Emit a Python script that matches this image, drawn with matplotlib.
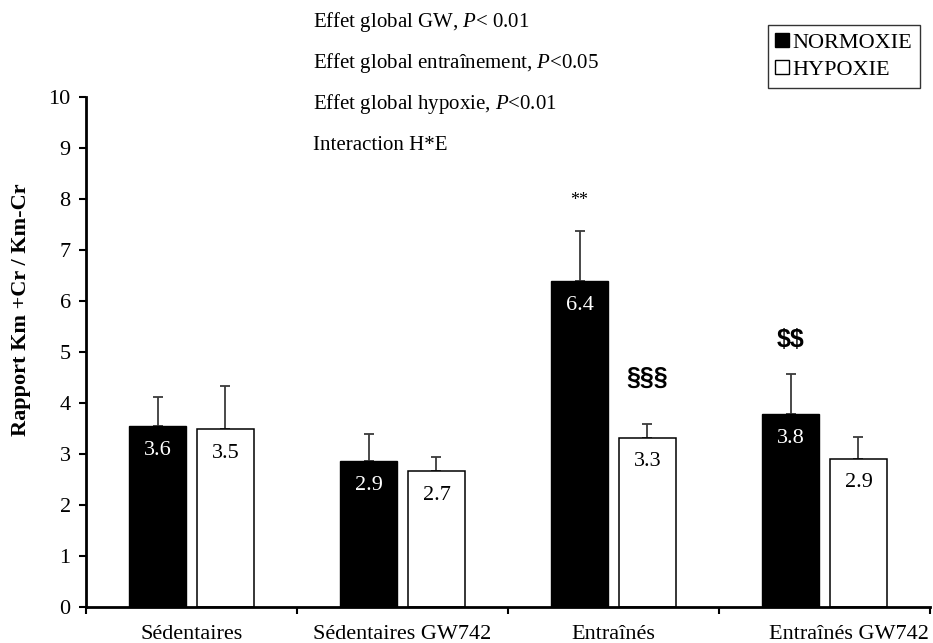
import matplotlib
matplotlib.use("Agg")
import matplotlib.pyplot as plt
from matplotlib.patches import Patch
from matplotlib.transforms import ScaledTranslation
import numpy as np

plt.rcParams['font.family'] = ['Liberation Serif', 'DejaVu Serif']
plt.rcParams['mathtext.fontset'] = 'custom'
plt.rcParams['mathtext.rm'] = 'Liberation Serif'
plt.rcParams['mathtext.it'] = 'Liberation Serif:italic'

categories = ['Sédentaires', 'Sédentaires GW742', 'Entraînés', 'Entraînés GW742']
normoxie = [3.55, 2.86, 6.39, 3.78]
hypoxie = [3.49, 2.66, 3.32, 2.91]
err_normoxie = [0.57, 0.54, 0.99, 0.79]
err_hypoxie = [0.85, 0.28, 0.27, 0.42]
labels_normoxie = ['3.6', '2.9', '6.4', '3.8']
labels_hypoxie = ['3.5', '2.7', '3.3', '2.9']
yticks = list(range(0, 11))
stats_lines = ["Effet global GW, $P$< 0.01",
               "Effet global entraînement, $P$<0.05",
               "Effet global hypoxie, $P$<0.01",
               "Interaction H*E"]
# significance marks: (category index, series, text, y value)
marks = [(2, 'N', '**', 7.98), (2, 'H', '§§§', 4.49), (3, 'N', '$$', 5.24)]

W, H = 933, 643
fig = plt.figure(figsize=(W / 100, H / 100), dpi=100)
ax = fig.add_axes([86 / W, 1 - 607 / H, 844 / W, 510 / H])

x = np.arange(len(categories))
off = 0.161
bw = 0.27
ax.bar(x - off, normoxie, bw, color='black', edgecolor='black', linewidth=1, zorder=2)
ax.bar(x + off, hypoxie, bw, color='white', edgecolor='black', linewidth=1.1, zorder=2)
ax.errorbar(x - off, normoxie, yerr=[np.zeros(4), err_normoxie], fmt='none',
            ecolor='#3a3a3a', elinewidth=1.3, capsize=3.4, capthick=1.3, zorder=1)
ax.errorbar(x + off, hypoxie, yerr=[np.zeros(4), err_hypoxie], fmt='none',
            ecolor='#3a3a3a', elinewidth=1.3, capsize=3.4, capthick=1.3, zorder=1)

for i in range(len(categories)):
    ax.annotate(labels_normoxie[i], (x[i] - off, normoxie[i]), xytext=(0, -17.5),
                textcoords='offset points', ha='center', va='center',
                color='white', fontsize=16, zorder=3)
    ax.annotate(labels_hypoxie[i], (x[i] + off, hypoxie[i]), xytext=(0, -17.5),
                textcoords='offset points', ha='center', va='center',
                color='black', fontsize=16, zorder=3)

for ci, s, t, yv in marks:
    xp = x[ci] - off if s == 'N' else x[ci] + off
    if t == '**':
        ax.text(xp, yv, t, ha='center', va='center', fontsize=13, parse_math=False)
    else:
        ax.text(xp, yv, t, ha='center', va='center', fontsize=18, parse_math=False,
                fontweight='bold', family=['Liberation Sans', 'DejaVu Sans'])

ax.set_xlim(-0.5, 3.5)
ax.set_ylim(0, 10)
ax.set_yticks(yticks)
ax.set_yticklabels([str(v) for v in yticks], fontsize=16)
ax.set_xticks(x)
ax.set_xticklabels(categories, fontsize=16)
ax.set_xticks(np.arange(-0.5, 3.6, 1.0), minor=True)
ax.tick_params(axis='x', which='major', length=0, pad=13)
ax.tick_params(axis='x', which='minor', length=5, width=1.5, direction='out')
ax.tick_params(axis='y', length=5, width=1.5, direction='out', pad=6)
for sp in ['top', 'right']:
    ax.spines[sp].set_visible(False)
for sp in ['left', 'bottom']:
    ax.spines[sp].set_linewidth(2)

# last category label sits a little right of its group centre in the original
lbl = ax.get_xticklabels()[-1]
lbl.set_transform(lbl.get_transform() + ScaledTranslation(0.24, 0, fig.dpi_scale_trans))

fig.text(21 / W, 1 - 310 / H, 'Rapport Km +Cr / Km-Cr', rotation=90, ha='center',
         va='center', fontsize=16, fontweight='bold')

for k, line in enumerate(stats_lines):
    fig.text(313 / W, 1 - (22 + 41 * k) / H, line, ha='left', va='center', fontsize=15)

handles = [Patch(facecolor='black', edgecolor='black', label='NORMOXIE'),
           Patch(facecolor='white', edgecolor='black', label='HYPOXIE')]
leg = fig.legend(handles=handles, loc='upper right', bbox_to_anchor=(920 / W, 1 - 25 / H),
                 fontsize=16, frameon=True, fancybox=False, handlelength=0.62,
                 handleheight=0.62, handletextpad=0.15, borderpad=0.35, labelspacing=0.32,
                 borderaxespad=0)
leg.get_frame().set_edgecolor('black')
leg.get_frame().set_linewidth(1)

fig.savefig('out.png', dpi=100)
